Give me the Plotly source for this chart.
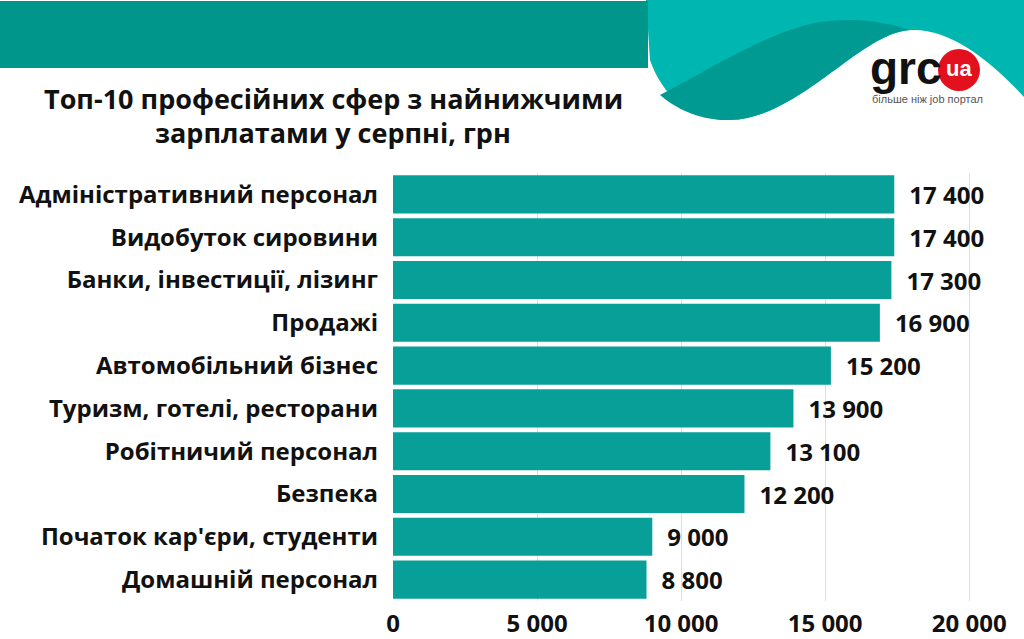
import plotly.graph_objects as go

categories = ["Адміністративний персонал", "Видобуток сировини", "Банки, інвестиції, лізинг",
              "Продажі", "Автомобільний бізнес", "Туризм, готелі, ресторани",
              "Робітничий персонал", "Безпека", "Початок кар'єри, студенти", "Домашній персонал"]
values = [17400, 17400, 17300, 16900, 15200, 13900, 13100, 12200, 9000, 8800]
title_lines = ["Топ-10 професійних сфер з найнижчими", "зарплатами у серпні, грн"]

W, H = 1024, 639
ML, MR, MT, MB = 393, 26, 173, 38
PW, PH = W - ML - MR, H - MT - MB

def px(x):
    return (x - ML) / PW

def py(y):
    return 1 - (y - MT) / PH

def path(points_cmds):
    out = []
    for c, pts in points_cmds:
        s = c
        s += " ".join(f"{px(x):.5f},{py(y):.5f}" for x, y in pts)
        out.append(s)
    return " ".join(out) + " Z"

labels = [f"{v:,}".replace(",", " ") for v in values]

fig = go.Figure(go.Bar(
    y=categories, x=values, orientation="h",
    marker=dict(color="#089f99", line=dict(width=0)),
    text=["\u2002" + t for t in labels], textposition="outside",
    textfont=dict(family="Open Sans", size=24, color="#111111", weight="bold"),
    cliponaxis=False, width=0.89,
))

teal_light = path([
    ("M", [(646, 0)]), ("L", [(1024, 0)]), ("L", [(1024, 97)]),
    ("C", [(990, 60), (950, 28), (910, 30)]),
    ("C", [(860, 33), (800, 118), (730, 120)]),
    ("C", [(690, 121), (662, 95), (650, 60)]),
])
teal_dark = path([
    ("M", [(660, 95)]),
    ("C", [(700, 75), (760, 35), (815, 23)]),
    ("C", [(860, 15), (895, 25), (910, 30)]),
    ("C", [(860, 33), (800, 118), (730, 120)]),
    ("C", [(700, 121), (675, 108), (660, 95)]),
])

shapes = [
    dict(type="path", path=teal_light, xref="paper", yref="paper",
         fillcolor="#00b6b0", line=dict(width=0), layer="below"),
    dict(type="path", path=teal_dark, xref="paper", yref="paper",
         fillcolor="#009a93", line=dict(width=0), layer="below"),
    dict(type="rect", xref="paper", yref="paper", x0=px(0), x1=px(648), y0=py(68), y1=py(1),
         fillcolor="#00968b", line=dict(width=0), layer="below"),
    dict(type="circle", xref="paper", yref="paper", x0=px(938), x1=px(980), y0=py(91), y1=py(49),
         fillcolor="#e3101e", line=dict(width=0)),
]

annotations = [
    dict(text=title_lines[0], x=px(333), y=py(99), xref="paper", yref="paper",
         showarrow=False, xanchor="center", yanchor="middle",
         font=dict(family="Open Sans", size=27, color="#111111", weight="bold")),
    dict(text=title_lines[1], x=px(333), y=py(132), xref="paper", yref="paper",
         showarrow=False, xanchor="center", yanchor="middle",
         font=dict(family="Open Sans", size=27, color="#111111", weight="bold")),
    dict(text="grc", x=px(868), y=py(68), xref="paper", yref="paper",
         showarrow=False, xanchor="left", yanchor="middle",
         font=dict(family="Liberation Sans", size=46, color="#111111", weight="bold")),
    dict(text="ua", x=px(959), y=py(68), xref="paper", yref="paper",
         showarrow=False, xanchor="center", yanchor="middle",
         font=dict(family="Liberation Sans", size=22, color="#ffffff", weight="bold")),
    dict(text="більше ніж job портал", x=px(870), y=py(99), xref="paper", yref="paper",
         showarrow=False, xanchor="left", yanchor="middle",
         font=dict(family="Liberation Sans", size=11, color="#555555")),
]

fig.update_layout(
    width=W, height=H, margin=dict(l=ML, r=MR, t=MT, b=MB, autoexpand=False),
    paper_bgcolor="white", plot_bgcolor="white",
    separators=", ", showlegend=False, bargap=0.11,
    shapes=shapes, annotations=annotations,
    xaxis=dict(range=[0, 21000], tickvals=[0, 5000, 10000, 15000, 20000], tickformat=",d",
               showgrid=True, gridcolor="#dddddd", gridwidth=1, zeroline=False,
               showline=False, ticks="", ticklabelstandoff=6,
               tickfont=dict(family="Open Sans", size=24, color="#111111", weight="bold")),
    yaxis=dict(autorange="reversed", showgrid=False, showline=False, ticks="",
               ticklabelstandoff=14,
               tickfont=dict(family="Open Sans", size=24, color="#111111", weight="bold")),
)

fig.write_html("out.html")
